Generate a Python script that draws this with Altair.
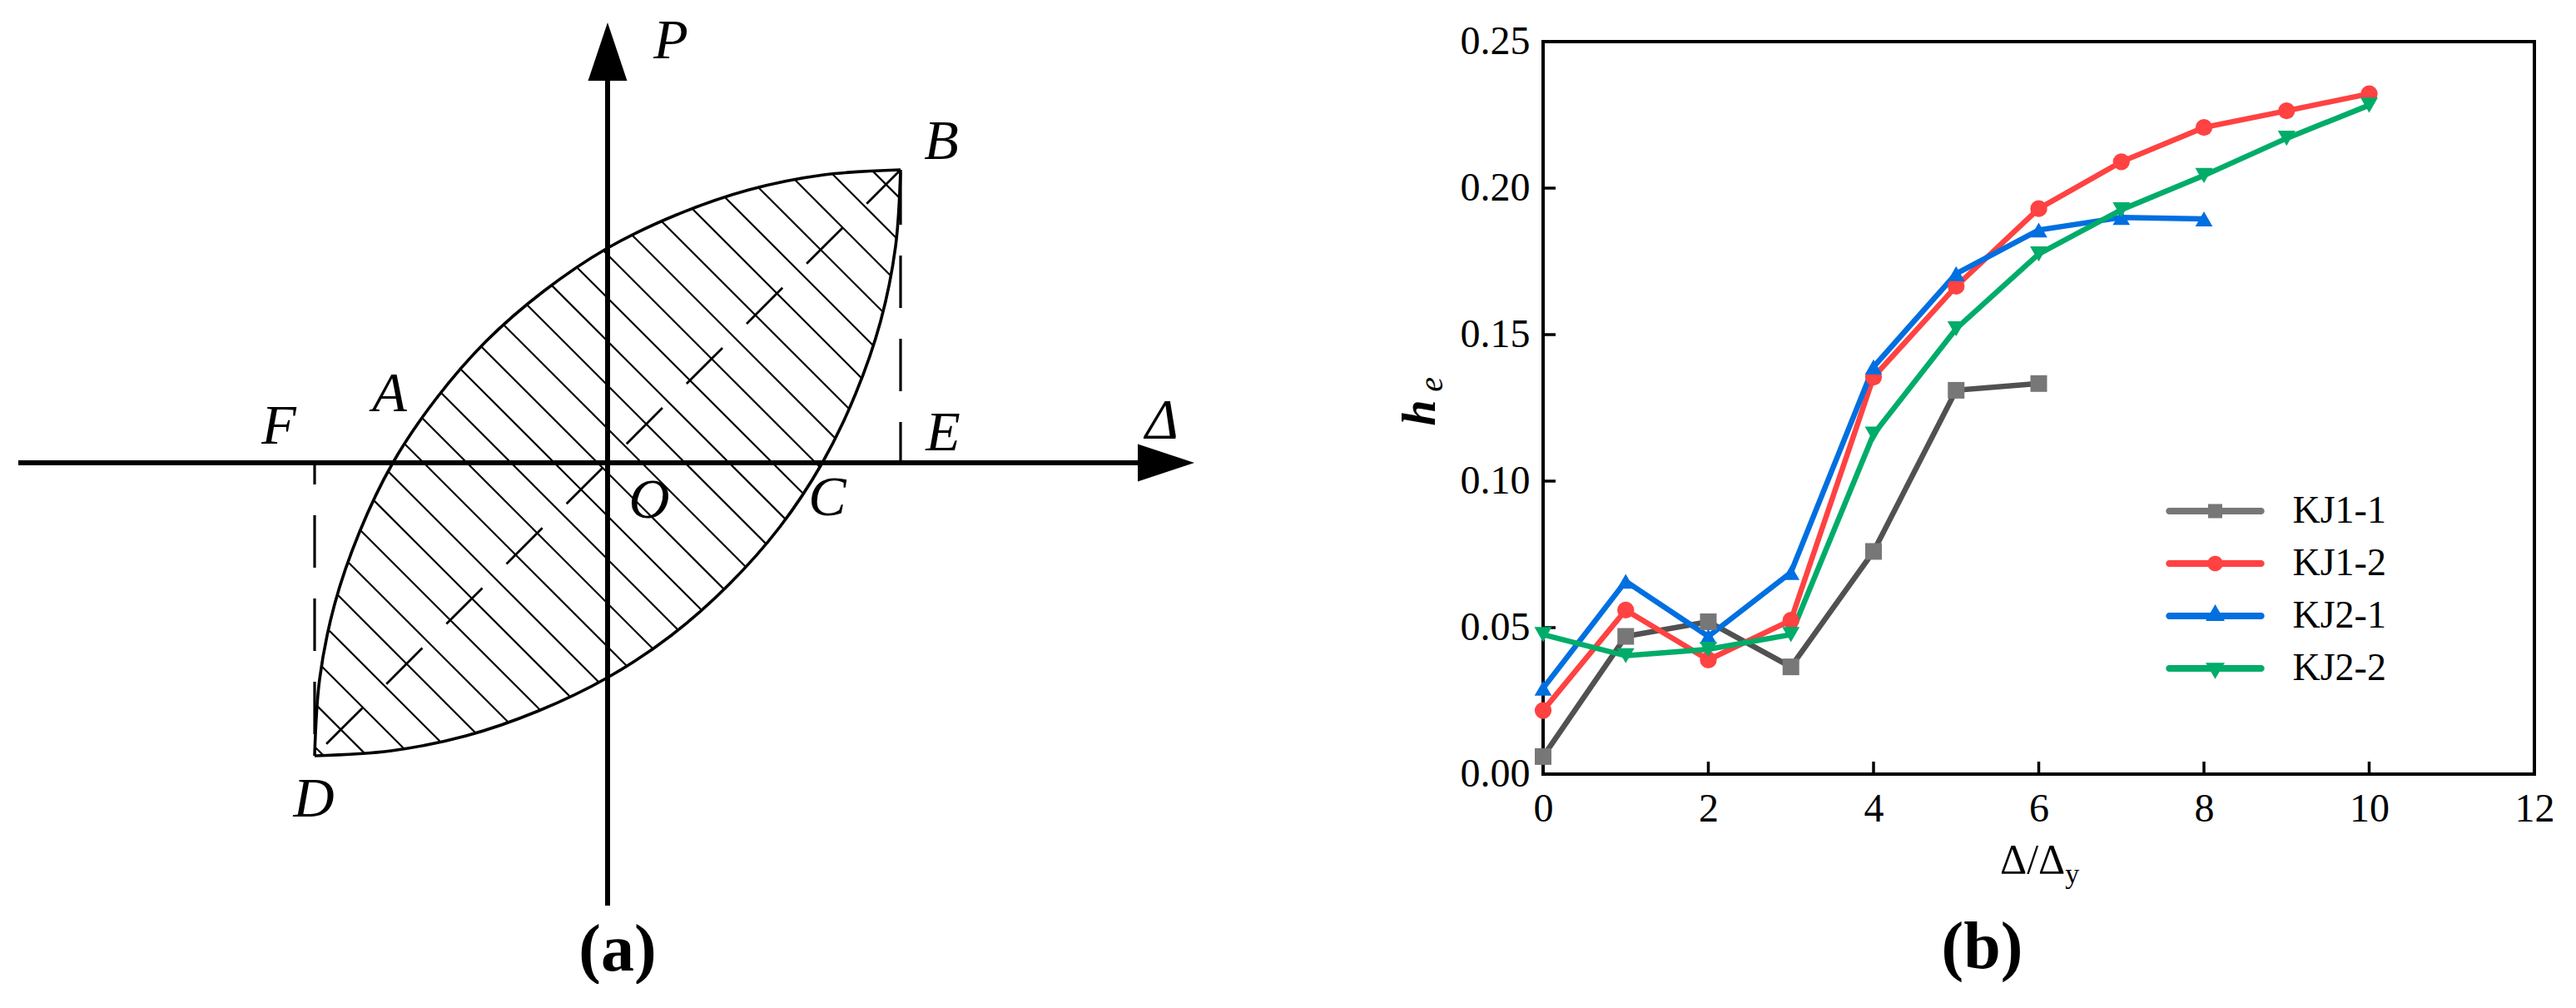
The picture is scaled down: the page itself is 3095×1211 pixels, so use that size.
import altair as alt
import pandas as pd

FONT = "Liberation Serif"
LABEL_FONT = "'Liberation Serif', 'Times New Roman', Times, serif"

# ================= panel (a): schematic loop (units = px, origin at O, y up) =================
upper_x = [-352, -346, -328, -298, -258, -206, -146, -77, 0, 83, 170, 260, 352]
upper_y = [-352, -260, -170, -83, 0, 77, 146, 206, 258, 298, 328, 346, 352]
lower_x = [-352, -260, -170, -83, 0, 77, 146, 207, 258, 298, 328, 346, 352]
lower_y = [-352, -346, -328, -298, -258, -207, -146, -77, 0, 83, 170, 260, 352]
# hatch lines x + y = c (c = crossing with the Δ axis)
hatch_c = [-693, -641, -588, -536, -483, -431, -378, -326, -274, -221, -169, -116, -64,
           -12, 41, 93, 146, 198, 250, 303, 355, 407, 460, 512, 565, 617, 669]
point_D = [-352, -352]
point_B = [352, 352]
haxis_x = [-708, 645]
vaxis_y = [-532, 470]
arrow_right_at = [671, 0]
arrow_up_at = [0, 494]
labels_a = ["P", "A", "F", "E", "Δ", "C", "O", "B", "D"]
label_ax = [76, -262, -395, 403, 666, 264, 50, 401, -353]
label_ay = [506, 82, 43, 35, 50, -43, -46, 385, -405]


def crossing(xs, ys, c):
    for i in range(len(xs) - 1):
        s0 = xs[i] + ys[i] - c
        s1 = xs[i + 1] + ys[i + 1] - c
        if s0 == 0:
            return xs[i], ys[i]
        if s0 * s1 < 0 or s1 == 0:
            t = s0 / (s0 - s1)
            return xs[i] + t * (xs[i + 1] - xs[i]), ys[i] + t * (ys[i + 1] - ys[i])
    return None


hatch_rows = []
for c in hatch_c:
    p = crossing(upper_x, upper_y, c)
    q = crossing(lower_x, lower_y, c)
    if p and q:
        hatch_rows.append({"x1": p[0], "y1": p[1], "x2": q[0], "y2": q[1]})
hatch_df = pd.DataFrame(hatch_rows)

curve_df = pd.DataFrame(
    [{"branch": "upper", "i": i, "x": x, "y": y} for i, (x, y) in enumerate(zip(upper_x, upper_y))]
    + [{"branch": "lower", "i": i, "x": x, "y": y} for i, (x, y) in enumerate(zip(lower_x, lower_y))]
)

sxa = alt.Scale(domain=[-722, 720], nice=False, zero=False)
sya = alt.Scale(domain=[-532, 506], nice=False, zero=False)


def XA(f):
    return alt.X(f, type="quantitative", scale=sxa, axis=None)


def YA(f):
    return alt.Y(f, type="quantitative", scale=sya, axis=None)


def seg(x1, y1, x2, y2):
    return pd.DataFrame({"x1": [x1], "y1": [y1], "x2": [x2], "y2": [y2]})


def rule(df, **kw):
    return alt.Chart(df).mark_rule(color="black", **kw).encode(
        x=XA("x1"), y=YA("y1"), x2=alt.X2("x2"), y2=alt.Y2("y2"))


hatch = rule(hatch_df, strokeWidth=2.2)
curves = alt.Chart(curve_df).mark_line(color="black", strokeWidth=3.6, interpolate="catmull-rom").encode(
    x=XA("x"), y=YA("y"), detail="branch:N", order="i:Q")
diag = rule(seg(point_D[0], point_D[1], point_B[0], point_B[1]),
            strokeWidth=2.8, strokeDash=[61, 41], strokeDashOffset=82)
dashF = rule(seg(point_D[0], 0, point_D[0], point_D[1]), strokeWidth=3.2, strokeDash=[63, 37], strokeDashOffset=37)
dashE = rule(seg(point_B[0], 0, point_B[0], point_B[1]), strokeWidth=3.2, strokeDash=[63, 37], strokeDashOffset=14)
haxis = rule(seg(haxis_x[0], 0, haxis_x[1], 0), strokeWidth=6)
vaxis = rule(seg(0, vaxis_y[0], 0, vaxis_y[1]), strokeWidth=6)
arrow_r = alt.Chart(pd.DataFrame({"x": [arrow_right_at[0]], "y": [arrow_right_at[1]]})).mark_point(
    shape="M1,0L-1,-0.66L-1,0.66Z", filled=True, opacity=1, color="black", size=4624, strokeWidth=0
).encode(x=XA("x"), y=YA("y"))
arrow_u = alt.Chart(pd.DataFrame({"x": [arrow_up_at[0]], "y": [arrow_up_at[1]]})).mark_point(
    shape="M0,-1L0.67,1L-0.67,1Z", filled=True, opacity=1, color="black", size=4900, strokeWidth=0
).encode(x=XA("x"), y=YA("y"))
labels = alt.Chart(pd.DataFrame({"t": labels_a, "x": label_ax, "y": label_ay})).mark_text(
    font=FONT, fontStyle="italic", fontSize=68, color="black", align="center", baseline="middle"
).encode(x=XA("x"), y=YA("y"), text="t:N")

panel_a = alt.layer(
    hatch, curves, diag, dashF, dashE, haxis, vaxis, arrow_r, arrow_u, labels,
    title=alt.TitleParams("(a)", orient="bottom", font=FONT, fontSize=80, fontWeight="bold",
                          offset=12, dx=13, anchor="middle", color="black"),
).properties(width=1442, height=1038, view=alt.ViewBackground(strokeWidth=0, stroke="transparent"))

# ================= panel (b): h_e vs Δ/Δy =================
series = ["KJ1-1", "KJ1-2", "KJ2-1", "KJ2-2"]
kj11 = [0.006, 0.047, 0.052, 0.0366, 0.076, 0.131, 0.1333]
kj12 = [0.0217, 0.056, 0.039, 0.0525, 0.1355, 0.1665, 0.193, 0.209, 0.2207, 0.2264, 0.2322]
kj21 = [0.0293, 0.0658, 0.047, 0.0688, 0.139, 0.1708, 0.1857, 0.190, 0.1895]
kj22 = [0.0476, 0.0404, 0.0426, 0.0476, 0.116, 0.152, 0.1775, 0.1926, 0.2043, 0.217, 0.2283]
x_ticks = [0, 2, 4, 6, 8, 10, 12]
y_ticks = [0.0, 0.05, 0.10, 0.15, 0.20, 0.25]

line_colors = ["#515151", "#FF4242", "#006FE0", "#00AC69"]
marker_colors = ["#777777", "#FF4242", "#006FE0", "#00AC69"]
marker_shapes = ["square", "circle", "triangle-up", "triangle-down"]
marker_sizes = [400, 440, 620, 620]
_bar = "M-6.5,-0.47H6.5A0.47,0.47,0,0,1,6.5,0.47H-6.5A0.47,0.47,0,0,1,-6.5,-0.47Z "
legend_shapes = [
    _bar + "M-1,-1H1V1H-1Z",
    _bar + "M-1.1,0A1.1,1.1,0,1,1,1.1,0A1.1,1.1,0,1,1,-1.1,0Z",
    _bar + "M0,-1.65L1.35,0.7H-1.35Z",
    _bar + "M0,1.5L-1.35,-0.8H1.35Z",
]

rows = []
for name, vals in zip(series, [kj11, kj12, kj21, kj22]):
    for i, v in enumerate(vals):
        rows.append({"s": name, "x": i, "y": v})
df_b = pd.DataFrame(rows)

sxb = alt.Scale(domain=[0, 12], nice=False, zero=False)
syb = alt.Scale(domain=[0, 0.25], nice=False, zero=False)
ax_x = alt.Axis(values=x_ticks, format="d", labelFont=LABEL_FONT, labelFontSize=48, labelColor="black",
                labelPadding=18, ticks=False, tickSize=0, domain=False, grid=False, title=None,
                labelFlush=False, labelOverlap=False)
ax_y = alt.Axis(values=y_ticks, format=".2f", labelFont=LABEL_FONT, labelFontSize=48, labelColor="black",
                labelPadding=16, ticks=False, tickSize=0, domain=False, grid=False, title=None,
                labelFlush=False, labelOverlap=False)


def XB(f):
    return alt.X(f, type="quantitative", scale=sxb, axis=ax_x)


def YB(f):
    return alt.Y(f, type="quantitative", scale=syb, axis=ax_y)


lines_b = alt.Chart(df_b).mark_line(strokeWidth=6.5).encode(
    x=XB("x"), y=YB("y"),
    color=alt.Color("s:N", scale=alt.Scale(domain=series, range=line_colors), legend=None),
)
points_b = alt.Chart(df_b).mark_point(filled=True, opacity=1, strokeWidth=0).encode(
    x=XB("x"), y=YB("y"),
    color=alt.Color("s:N", scale=alt.Scale(domain=series, range=marker_colors), legend=None),
    shape=alt.Shape("s:N", scale=alt.Scale(domain=series, range=marker_shapes), legend=None),
    size=alt.Size("s:N", scale=alt.Scale(domain=series, range=marker_sizes), legend=None),
)
leg = alt.Legend(title=None, orient="none", legendX=784.5, legendY=541, symbolSize=289,
                 symbolStrokeWidth=0, symbolOpacity=1, labelFont=LABEL_FONT, labelFontSize=46,
                 labelColor="black", labelOffset=70, rowPadding=17, padding=0)
legend_b = alt.Chart(df_b).mark_point(filled=True, opacity=0, size=289, strokeWidth=0).encode(
    x=XB("x"), y=YB("y"),
    color=alt.Color("s:N", scale=alt.Scale(domain=series, range=marker_colors), legend=leg),
    shape=alt.Shape("s:N", scale=alt.Scale(domain=series, range=legend_shapes), legend=leg),
)

xt_df = pd.DataFrame({"x": x_ticks, "y": [0] * len(x_ticks), "y2": [0.00426] * len(x_ticks)})
yt_df = pd.DataFrame({"y": y_ticks, "x": [0] * len(y_ticks), "x2": [0.151] * len(y_ticks)})
xticks_b = alt.Chart(xt_df).mark_rule(color="black", strokeWidth=3.5).encode(
    x=XB("x"), y=YB("y"), y2=alt.Y2("y2"))
yticks_b = alt.Chart(yt_df).mark_rule(color="black", strokeWidth=3.5).encode(
    x=XB("x"), y=YB("y"), x2=alt.X2("x2"))

xtitle_main = alt.Chart(pd.DataFrame({"t": ["Δ/Δ"], "x": [6.32], "y": [-0.0338]})).mark_text(
    font=FONT, fontSize=50, color="black", align="right", baseline="alphabetic"
).encode(x=XB("x"), y=YB("y"), text="t:N")
xtitle_sub = alt.Chart(pd.DataFrame({"t": ["y"], "x": [6.32], "y": [-0.0372]})).mark_text(
    font=FONT, fontSize=34, color="black", align="left", baseline="alphabetic"
).encode(x=XB("x"), y=YB("y"), text="t:N")
ytitle_main = alt.Chart(pd.DataFrame({"t": ["h"], "x": [-1.31], "y": [0.1233]})).mark_text(
    font=FONT, fontSize=56, fontStyle="italic", fontWeight="bold", color="black", angle=270,
    align="center", baseline="alphabetic"
).encode(x=XB("x"), y=YB("y"), text="t:N")
ytitle_sub = alt.Chart(pd.DataFrame({"t": ["e"], "x": [-1.22], "y": [0.133]})).mark_text(
    font=FONT, fontSize=40, fontStyle="italic", color="black", angle=270,
    align="center", baseline="alphabetic"
).encode(x=XB("x"), y=YB("y"), text="t:N")

panel_b = alt.layer(
    xticks_b, yticks_b, lines_b, points_b, legend_b, xtitle_main, xtitle_sub, ytitle_main, ytitle_sub,
    title=alt.TitleParams("(b)", orient="bottom", font=FONT, fontSize=80, fontWeight="bold",
                          offset=32, dx=-68, anchor="middle", color="black"),
).resolve_scale(color="independent", shape="independent", size="independent").properties(
    width=1191, height=880, view=alt.ViewBackground(stroke="black", strokeWidth=4)
)

chart = alt.hconcat(panel_a, panel_b, spacing=404, bounds="flush").properties(
    padding={"left": 0, "top": 8, "right": 0, "bottom": 0}, background="white"
).configure(font=FONT).configure_view(strokeWidth=0).configure_axis(
    labelFont=LABEL_FONT, titleFont=FONT
).configure_legend(labelFont=LABEL_FONT, titleFont=FONT).configure_text(font=FONT)

chart.save("out.html", embed_options={"renderer": "svg", "actions": False})
